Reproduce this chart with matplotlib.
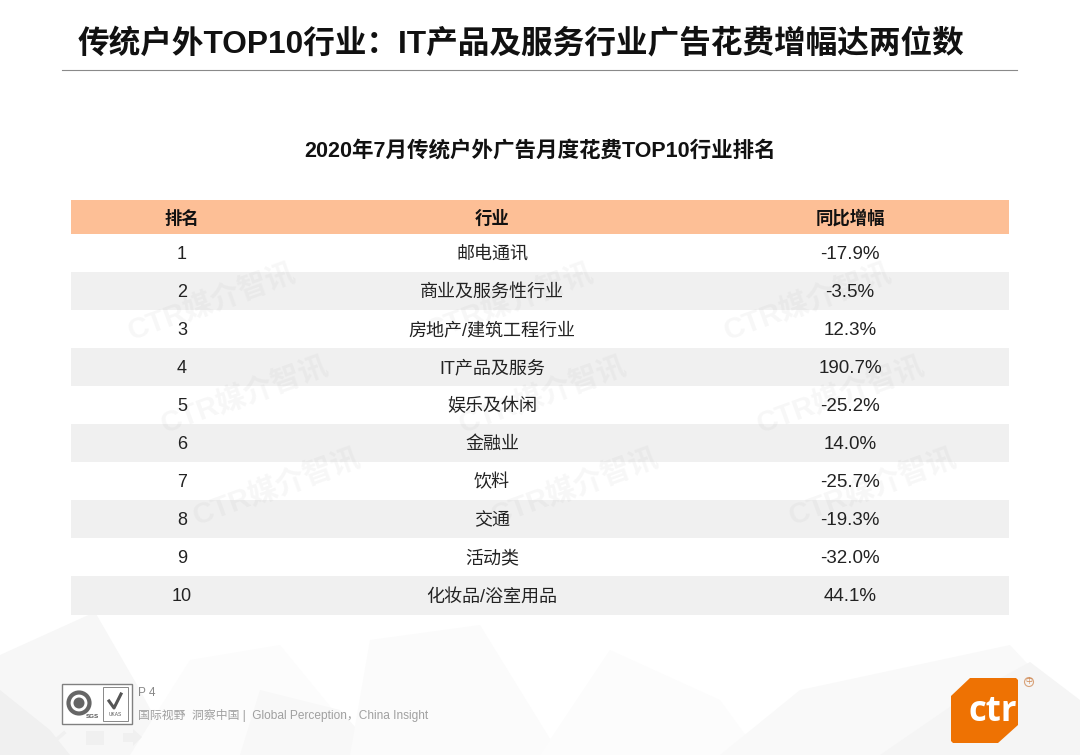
import matplotlib
matplotlib.use('Agg')
import matplotlib.pyplot as plt
from matplotlib.patches import Rectangle, Polygon, Circle

plt.rcParams['font.family'] = ['Liberation Sans', 'Noto Sans CJK SC', 'DejaVu Sans']

W, H = 1080, 755

title = '传统户外TOP10行业：IT产品及服务行业广告花费增幅达两位数'
subtitle = '2020年7月传统户外广告月度花费TOP10行业排名'
headers = ['排名', '行业', '同比增幅']
ranks = ['1', '2', '3', '4', '5', '6', '7', '8', '9', '10']
industries = ['邮电通讯', '商业及服务性行业', '房地产/建筑工程行业', 'IT产品及服务', '娱乐及休闲',
              '金融业', '饮料', '交通', '活动类', '化妆品/浴室用品']
growth = [-17.9, -3.5, 12.3, 190.7, -25.2, 14.0, -25.7, -19.3, -32.0, 44.1]

# 背景的浅灰色多边形
bg_polys = [
    ([(0, 755), (0, 655), (95, 612), (140, 690), (175, 755)], '#f7f7f7'),
    ([(0, 755), (0, 690), (50, 730), (70, 755)], '#f0f0f0'),
    ([(130, 755), (190, 660), (280, 645), (370, 755)], '#fcfcfc'),
    ([(240, 755), (260, 690), (340, 710), (380, 755)], '#f8f8f8'),
    ([(370, 640), (480, 625), (560, 755), (350, 755)], '#fbfbfb'),
    ([(540, 755), (610, 650), (720, 700), (760, 755)], '#fcfcfc'),
    ([(720, 755), (800, 690), (1010, 645), (1080, 720), (1080, 755)], '#f9f9f9'),
    ([(880, 755), (960, 700), (1030, 662), (1080, 700), (1080, 755)], '#f5f5f5'),
]
# 水印中心位置
mark_x = [212, 510, 808]
mark_y = [302, 395, 487]
mark_shift = [0, 33, 65]

fig = plt.figure(figsize=(W / 100, H / 100), dpi=100)
ax = fig.add_axes([0, 0, 1, 1])
ax.set_xlim(0, W)
ax.set_ylim(H, 0)
ax.axis('off')

for pts, c in bg_polys:
    ax.add_patch(Polygon(pts, closed=True, fc=c, ec='none', zorder=1))

# 标题
ax.text(520.5, 44.5, title, fontsize=22.8, fontweight='bold', color='#111111', ha='center', va='center', zorder=5)
ax.plot([62, 1017], [69.5, 69.5], color='#8a8a8a', lw=0.8, zorder=5)
ax.text(540, 151, subtitle, fontsize=15.5, fontweight='bold', color='#111111', ha='center', va='center', zorder=5)

# 表格
col_x = [182, 492, 850]
ax.add_patch(Rectangle((71, 200), 938, 34, fc='#fdbf96', ec='none', zorder=2))
for x, h in zip(col_x, headers):
    ax.text(x, 218, h, fontsize=12.5, fontweight='bold', color='#111111', ha='center', va='center', zorder=5)

row_h = 38.05
for i in range(len(ranks)):
    top = 234 + i * row_h
    if i % 2 == 1:
        ax.add_patch(Rectangle((71, top), 938, row_h, fc='#f0f0f0', ec='none', zorder=2))
    yc = top + row_h / 2
    ax.text(col_x[0], yc + 1.5, ranks[i], fontsize=13, color='#222222', ha='center', va='center', zorder=5)
    ax.text(col_x[1], yc + 1.5, industries[i], fontsize=13, color='#222222', ha='center', va='center', zorder=5)
    ax.text(col_x[2], yc + 1, f'{growth[i]:.1f}%', fontsize=13.5, color='#222222', ha='center', va='center', zorder=5)

# 水印
for my, shift in zip(mark_y, mark_shift):
    for mx in mark_x:
        ax.text(mx + shift, my, 'CTR媒介智讯', fontsize=21, fontweight='bold', color='#7f7f7f',
                alpha=0.06, rotation=20, ha='center', va='center', zorder=4)

# 左下角认证标志
ax.add_patch(Rectangle((61.5, 684), 70, 40, fc='white', ec='#808080', lw=1, zorder=5))
ax.add_patch(Circle((79, 703), 10.5, fc='none', ec='#666666', lw=3, zorder=6))
ax.add_patch(Circle((79, 703), 5.5, fc='#666666', ec='none', zorder=6))
ax.text(92, 717, 'SGS', fontsize=4.5, color='#555555', ha='center', va='center', fontweight='bold', zorder=6)
ax.add_patch(Rectangle((102.5, 687), 25, 34, fc='white', ec='#888888', lw=0.7, zorder=6))
ax.plot([109, 114, 121], [701, 708, 694], color='#555555', lw=2.2, zorder=7)
ax.text(115, 714, 'UKAS', fontsize=3.5, color='#555555', ha='center', va='center', zorder=7)

ax.text(138, 693.5, 'P 4', fontsize=8.5, color='#888888', ha='left', va='center', zorder=5)
ax.text(138, 715.5, '国际视野  洞察中国 |  Global Perception，China Insight', fontsize=8.55, color='#a0a0a0',
        ha='left', va='center', zorder=5)

# 翻页按钮
nav_c = '#f0f0f0'
ax.add_patch(Polygon([(8, 737), (17, 729), (17, 733), (26, 733), (26, 742), (17, 742), (17, 746)], fc=nav_c, ec='none', zorder=3))
ax.plot([49, 64], [746, 733], color=nav_c, lw=2.5, zorder=3)
ax.add_patch(Rectangle((86, 731), 18, 14, fc=nav_c, ec='none', zorder=3))
ax.add_patch(Polygon([(142, 737), (133, 729), (133, 733), (123, 733), (123, 742), (133, 742), (133, 746)], fc=nav_c, ec='none', zorder=3))

# ctr 标志
logo = Polygon([(970, 678), (1016, 678), (1018, 680), (1018, 725), (998, 743), (953, 743), (951, 741), (951, 696)],
               fc='#ee7203', ec='none', zorder=5)
ax.add_patch(logo)
logo_text = ax.text(969, 712, 'ctr', fontsize=25, fontweight='bold', family=['Open Sans', 'DejaVu Sans'], color='white',
                    ha='left', va='center', zorder=6)
logo_text.set_clip_path(logo)
ax.add_patch(Circle((1029, 682), 4.5, fc='none', ec='#d9a37a', lw=0.8, zorder=6))
ax.text(1029, 682, '中', fontsize=5, color='#d08a55', ha='center', va='center', zorder=7)

fig.savefig('out.png', dpi=100)
